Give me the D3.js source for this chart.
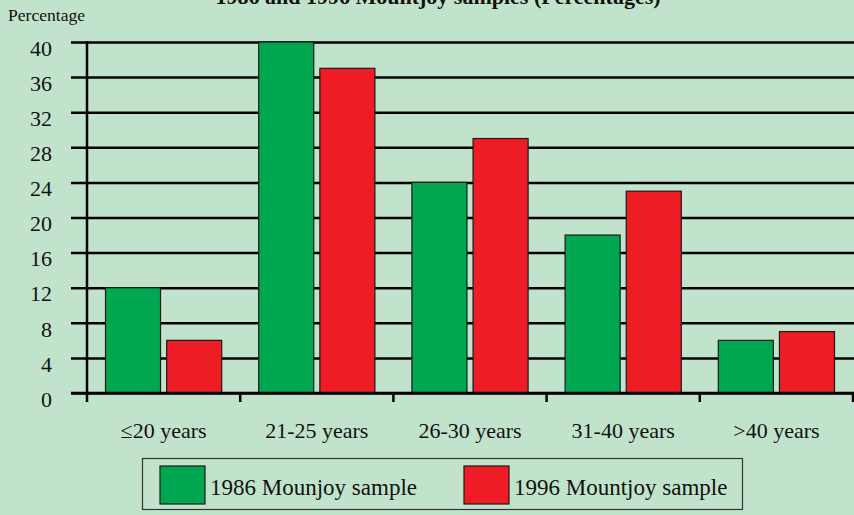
<!DOCTYPE html>
<html lang="en">
<head>
    <meta charset="utf-8">
    <title>Mountjoy samples by age</title>
    <script type="text/javascript" src="https://d3js.org/d3.v7.min.js"></script>
    <style type="text/css">
        body { margin: 0; background: #c2e3cb; }
        svg { display: block; }
        text { font-family: "Liberation Serif", "DejaVu Serif", serif; fill: #111; }
    </style>
</head>
<body>
<script type="text/javascript">
    var categories = ["\u226420 years", "21-25 years", "26-30 years", "31-40 years", ">40 years"];
    var seriesNames = ["1986 Mounjoy sample", "1996 Mountjoy sample"];
    var values1986 = [12, 40, 24, 18, 6];
    var values1996 = [6, 37, 29, 23, 7];
    var yTicks = [0, 4, 8, 12, 16, 20, 24, 28, 32, 36, 40];
    var colors = ["#00a650", "#ee1c25"];

    var w = 854, h = 515;
    var svg = d3.select("body").append("svg")
            .attr("width", w)
            .attr("height", h);

    svg.append("rect").attr("width", w).attr("height", h).attr("fill", "#c2e3cb");

    var x0 = d3.scaleBand().domain(categories).range([87, 853]);
    var x1 = d3.scaleBand().domain(seriesNames)
            .range([18.5, x0.bandwidth() - 18.5])
            .paddingInner(0.1);
    var y = d3.scaleLinear().domain([0, 40]).range([393, 42]);

    // title sits mostly above the top edge, as in the source picture
    svg.append("text")
            .attr("x", 438).attr("y", 4)
            .attr("text-anchor", "middle")
            .attr("font-size", "22px")
            .attr("font-weight", "bold")
            .text("1986 and 1996 Mountjoy samples (Percentages)");

    svg.append("text")
            .attr("x", 8).attr("y", 21)
            .attr("font-size", "17px")
            .attr("textLength", 77)
            .attr("lengthAdjust", "spacingAndGlyphs")
            .text("Percentage");

    // y axis with full-width gridlines
    var yAxis = svg.append("g")
            .attr("transform", "translate(71,0)")
            .call(d3.axisLeft(y).tickValues(yTicks).tickSize(-(w - 71)).tickPadding(19));
    yAxis.select(".domain").remove();
    yAxis.selectAll(".tick line").attr("stroke", "#000").attr("stroke-width", 2.5);
    yAxis.selectAll(".tick text")
            .attr("font-size", "22px")
            .attr("font-family", "Liberation Serif, serif")
            .attr("fill", "#111")
            .attr("dy", "0.6em");

    // bars
    var data = categories.map(function (c, i) {
        return { cat: c, vals: [values1986[i], values1996[i]] };
    });
    var groups = svg.selectAll("g.cat")
            .data(data)
            .enter()
            .append("g")
            .attr("class", "cat")
            .attr("transform", function (d) { return "translate(" + x0(d.cat) + ",0)"; });
    groups.selectAll("rect")
            .data(function (d) {
                return d.vals.map(function (v, j) { return { s: seriesNames[j], v: v, j: j }; });
            })
            .enter()
            .append("rect")
            .attr("x", function (d) { return x1(d.s); })
            .attr("y", function (d) { return y(d.v); })
            .attr("width", x1.bandwidth())
            .attr("height", function (d) { return y(0) - y(d.v); })
            .attr("fill", function (d) { return colors[d.j]; })
            .attr("stroke", "#1a1a1a")
            .attr("stroke-width", 1.2);

    // baseline and y axis line drawn over bars
    svg.append("line")
            .attr("x1", 71).attr("x2", w)
            .attr("y1", y(0)).attr("y2", y(0))
            .attr("stroke", "#000").attr("stroke-width", 2.5);
    svg.append("line")
            .attr("x1", 87).attr("x2", 87)
            .attr("y1", y(40) - 1).attr("y2", y(0) + 9)
            .attr("stroke", "#000").attr("stroke-width", 2.5);

    // category boundary ticks
    var bounds = categories.map(function (c) { return x0(c) + x0.bandwidth(); });
    svg.selectAll("line.btick")
            .data(bounds)
            .enter()
            .append("line")
            .attr("class", "btick")
            .attr("x1", function (d) { return d; })
            .attr("x2", function (d) { return d; })
            .attr("y1", y(0)).attr("y2", y(0) + 9)
            .attr("stroke", "#000").attr("stroke-width", 2.5);

    var xAxis = svg.append("g")
            .attr("transform", "translate(0," + y(0) + ")")
            .call(d3.axisBottom(x0).tickSize(0).tickPadding(29));
    xAxis.select(".domain").remove();
    xAxis.selectAll(".tick text")
            .attr("font-size", "22px")
            .attr("font-family", "Liberation Serif, serif")
            .attr("fill", "#111");

    // legend
    var legend = svg.append("g");
    legend.append("rect")
            .attr("x", 142.5).attr("y", 458.5)
            .attr("width", 600).attr("height", 51)
            .attr("fill", "none")
            .attr("stroke", "#333").attr("stroke-width", 1.2);
    var legendX = [160, 464];
    var items = legend.selectAll("g.item")
            .data(seriesNames)
            .enter()
            .append("g")
            .attr("class", "item")
            .attr("transform", function (d, i) { return "translate(" + legendX[i] + ",466)"; });
    items.append("rect")
            .attr("width", 45).attr("height", 38)
            .attr("fill", function (d, i) { return colors[i]; })
            .attr("stroke", "#1a1a1a").attr("stroke-width", 1.2);
    items.append("text")
            .attr("x", 50).attr("y", 29)
            .attr("font-size", "23px")
            .text(function (d) { return d; });
</script>
</body>
</html>
